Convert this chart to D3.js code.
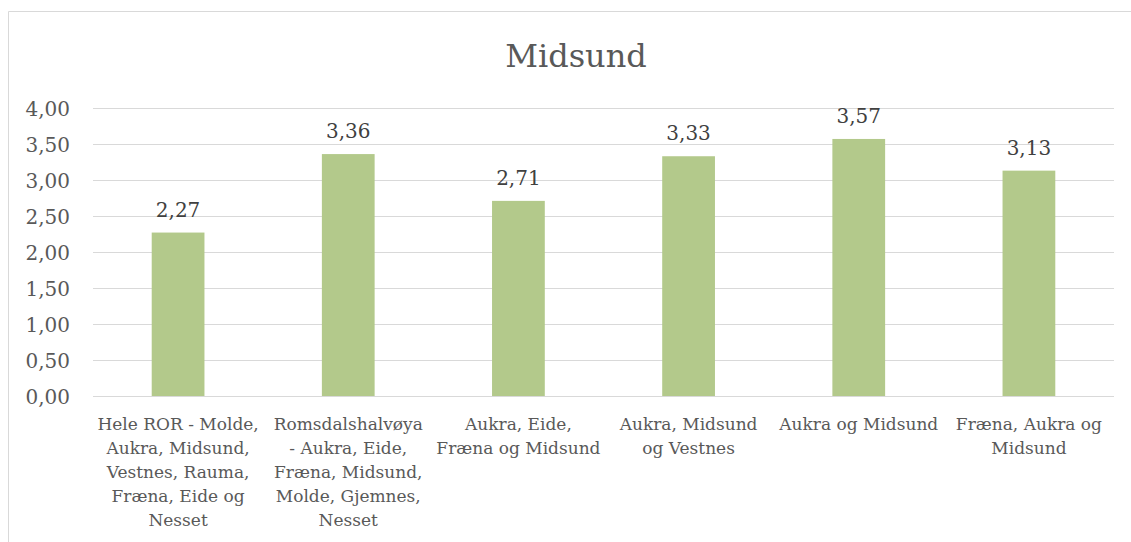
<!DOCTYPE html>
<html lang="no">
  <head>
    <meta charset="UTF-8" />
    <title>Midsund</title>
    <script src="https://d3js.org/d3.v7.min.js"></script>
    <style>
      html,
      body {
        margin: 0;
        background: #fff;
        font-family: "DejaVu Serif", serif;
      }
      .grid line {
        stroke: #d9d9d9;
        stroke-width: 1;
      }
      .bar {
        fill: #b3c98b;
      }
    </style>
  </head>
  <body>
    <svg id="chart" width="1131" height="542"></svg>
    <script>
      // data
      const categories = [
        "Hele ROR - Molde, Aukra, Midsund, Vestnes, Rauma, Fræna, Eide og Nesset",
        "Romsdalshalvøya - Aukra, Eide, Fræna, Midsund, Molde, Gjemnes, Nesset",
        "Aukra, Eide, Fræna og Midsund",
        "Aukra, Midsund og Vestnes",
        "Aukra og Midsund",
        "Fræna, Aukra og Midsund",
      ];
      // how the category labels wrap in the original
      const labelLines = [
        ["Hele ROR - Molde,", "Aukra, Midsund,", "Vestnes, Rauma,", "Fræna, Eide og", "Nesset"],
        ["Romsdalshalvøya", "- Aukra, Eide,", "Fræna, Midsund,", "Molde, Gjemnes,", "Nesset"],
        ["Aukra, Eide,", "Fræna og Midsund"],
        ["Aukra, Midsund", "og Vestnes"],
        ["Aukra og Midsund"],
        ["Fræna, Aukra og", "Midsund"],
      ];
      const values = [2.27, 3.36, 2.71, 3.33, 3.57, 3.13];
      const yTicks = [0, 0.5, 1, 1.5, 2, 2.5, 3, 3.5, 4];

      const svg = d3.select("#chart");
      const fmt = (v) => d3.format(".2f")(v).replace(".", ",");

      // outer chart frame (only top and left edges are visible)
      svg
        .append("path")
        .attr("d", "M8.5,542 V11.5 H1131")
        .attr("fill", "none")
        .attr("stroke", "#d9d9d9");

      const plot = { left: 93, right: 1114, top: 108, bottom: 396 };

      const x = d3
        .scaleBand()
        .domain(categories)
        .range([plot.left, plot.right])
        .paddingInner(0.69)
        .paddingOuter(0.345);

      const y = d3.scaleLinear().domain([0, 4]).range([plot.bottom, plot.top]);

      // title
      svg
        .append("text")
        .attr("x", 576)
        .attr("y", 67)
        .attr("text-anchor", "middle")
        .attr("fill", "#595959")
        .style("font-size", "32px")
        .text("Midsund");

      // gridlines
      svg
        .append("g")
        .attr("class", "grid")
        .selectAll("line")
        .data(yTicks)
        .join("line")
        .attr("x1", plot.left)
        .attr("x2", plot.right)
        .attr("y1", (d) => Math.round(y(d)) + 0.5)
        .attr("y2", (d) => Math.round(y(d)) + 0.5);

      // y axis labels
      const yAxis = d3
        .axisLeft(y)
        .tickValues(yTicks)
        .tickFormat(fmt)
        .tickSize(0)
        .tickPadding(23);
      const yg = svg
        .append("g")
        .attr("transform", `translate(${plot.left},0)`)
        .call(yAxis);
      yg.select(".domain").remove();
      yg.selectAll("text")
        .attr("fill", "#595959")
        .attr("dy", "0.36em")
        .style("font-family", "DejaVu Serif, serif")
        .style("font-size", "20px");

      // bars
      svg
        .append("g")
        .selectAll("rect")
        .data(values)
        .join("rect")
        .attr("class", "bar")
        .attr("x", (d, i) => x(categories[i]))
        .attr("width", x.bandwidth())
        .attr("y", (d) => y(d))
        .attr("height", (d) => y(0) - y(d));

      // value labels
      svg
        .append("g")
        .selectAll("text")
        .data(values)
        .join("text")
        .attr("x", (d, i) => x(categories[i]) + x.bandwidth() / 2)
        .attr("y", (d) => y(d) - 16)
        .attr("text-anchor", "middle")
        .attr("fill", "#404040")
        .style("font-size", "20px")
        .text(fmt);

      // category labels
      const xg = svg
        .append("g")
        .selectAll("text")
        .data(categories)
        .join("text")
        .attr("x", (d) => x(d) + x.bandwidth() / 2)
        .attr("y", 430)
        .attr("text-anchor", "middle")
        .attr("fill", "#595959")
        .style("font-size", "17px");
      xg.selectAll("tspan")
        .data((d, i) => labelLines[i])
        .join("tspan")
        .attr("x", function () {
          return this.parentNode.getAttribute("x");
        })
        .attr("dy", (d, i) => (i === 0 ? 0 : 24))
        .text((d) => d);
    </script>
  </body>
</html>
